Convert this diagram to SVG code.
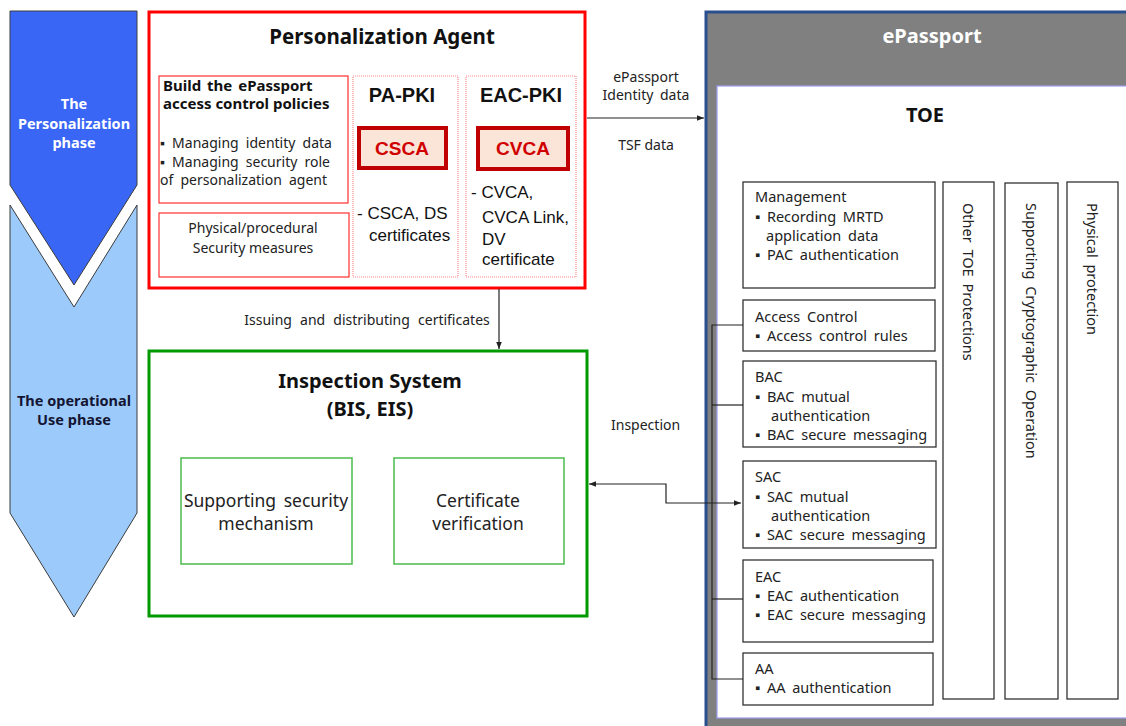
<svg xmlns="http://www.w3.org/2000/svg" width="1126" height="726" viewBox="0 0 1126 726">
  <defs>
    <marker id="arr" viewBox="0 0 10 10" refX="10" refY="5" markerWidth="6" markerHeight="6" orient="auto-start-reverse">
      <path d="M0,1 L10,5 L0,9 z" fill="#222"/>
    </marker>
    <style>
      .body { font-family: "Noto Sans", "Liberation Sans", sans-serif; font-size: 14px; fill: #222; }
      .toe-text { font-size: 14.5px; word-spacing: 3px; }
      .wide { word-spacing: 3.5px; }
      .arial { font-family: "Liberation Sans", Arial, sans-serif; fill: #111; }
      .title { font-family: "Noto Sans", "Liberation Sans", sans-serif; font-weight: bold; fill: #111; }
      .phase { font-family: "Noto Sans", "Liberation Sans", sans-serif; font-weight: bold; font-size: 14.5px; text-anchor: middle; }
      .red-thin { fill: #fff; stroke: #ff3030; stroke-width: 1.2; }
      .red-dot { fill: #fff; stroke: #ff8a8a; stroke-width: 1.2; stroke-dasharray: 1 1; }
      .ca-box { fill: #fbe4d8; stroke: #c00000; stroke-width: 4; }
      .ca-text { font-family: "Liberation Sans", Arial, sans-serif; font-weight: bold; font-size: 19px; fill: #d00000; text-anchor: middle; }
      .green-thin { fill: #fff; stroke: #4cbb4c; stroke-width: 1.5; }
      .green-text { font-size: 17.5px; word-spacing: 3px; }
      .toe-box { fill: #fff; stroke: #333; stroke-width: 1.3; }
      .conn { fill: none; stroke: #222; stroke-width: 1.2; }
      .mid { text-anchor: middle; }
    </style>
  </defs>

  <rect width="1126" height="726" fill="#fff"/>

  <!-- phase chevrons -->
  <g id="phase-personalization">
    <polygon points="10,11 137,11 137,185 74,285 10,185" fill="#3a66f6" stroke="#3c3c3c" stroke-width="1"/>
    <text class="phase" x="74" y="109" fill="#fff">The</text>
    <text class="phase" x="74" y="129" fill="#fff">Personalization</text>
    <text class="phase" x="74" y="148" fill="#fff">phase</text>
  </g>
  <g id="phase-operational">
    <polygon points="10,205 74,307 137,205 137,513 74,617 10,513" fill="#9ccbfb" stroke="#3c3c3c" stroke-width="1"/>
    <text class="phase" x="74" y="406" fill="#141433">The operational</text>
    <text class="phase" x="74" y="425" fill="#141433">Use phase</text>
  </g>

  <!-- Personalization Agent -->
  <g id="personalization-agent">
    <rect x="149" y="12" width="436" height="276" fill="#fff" stroke="#ff0000" stroke-width="3"/>
    <text class="title mid" x="382" y="44" font-size="20.5">Personalization Agent</text>

    <rect class="red-thin" x="159" y="76" width="189" height="127"/>
    <text class="title" x="163" y="91" font-size="15" word-spacing="2">Build the ePassport</text>
    <text class="title" x="163" y="109" font-size="15">access control policies</text>
    <text class="body wide" x="160" y="148">▪ Managing identity data</text>
    <text class="body wide" x="160" y="167">▪ Managing security role</text>
    <text class="body wide" x="160" y="185">of personalization agent</text>

    <rect class="red-thin" x="159" y="213" width="190" height="64"/>
    <text class="body mid" x="253" y="233" font-size="14.5">Physical/procedural</text>
    <text class="body mid" x="253" y="253" font-size="14.5">Security measures</text>

    <rect class="red-dot" x="353" y="76" width="105" height="201"/>
    <text class="arial mid" x="402" y="102" font-size="20" font-weight="bold">PA-PKI</text>
    <rect class="ca-box" x="359" y="128" width="87" height="40"/>
    <text class="ca-text" x="402" y="155">CSCA</text>
    <text class="arial" x="357" y="219" font-size="17">- CSCA, DS</text>
    <text class="arial" x="369" y="241" font-size="17">certificates</text>

    <rect class="red-dot" x="466" y="76" width="110" height="201"/>
    <text class="arial mid" x="521" y="102" font-size="20" font-weight="bold">EAC-PKI</text>
    <rect class="ca-box" x="478" y="128" width="90" height="41"/>
    <text class="ca-text" x="523" y="155">CVCA</text>
    <text class="arial" x="471" y="198" font-size="17">- CVCA,</text>
    <text class="arial" x="482" y="223" font-size="17">CVCA Link,</text>
    <text class="arial" x="482" y="245" font-size="17">DV</text>
    <text class="arial" x="482" y="265" font-size="17">certificate</text>
  </g>

  <!-- Inspection System -->
  <g id="inspection-system">
    <rect x="149" y="351" width="438" height="265" fill="#fff" stroke="#009a00" stroke-width="3"/>
    <text class="title mid" x="370" y="388" font-size="20">Inspection System</text>
    <text class="title mid" x="370" y="416" font-size="20">(BIS, EIS)</text>
    <rect class="green-thin" x="181" y="458" width="171" height="106"/>
    <text class="body green-text mid" x="266" y="507">Supporting security</text>
    <text class="body green-text mid" x="266" y="530">mechanism</text>
    <rect class="green-thin" x="394" y="458" width="170" height="106"/>
    <text class="body green-text mid" x="478" y="507">Certificate</text>
    <text class="body green-text mid" x="478" y="530">verification</text>
  </g>

  <!-- ePassport -->
  <g id="epassport">
    <rect x="706" y="12" width="430" height="730" fill="#808080" stroke="#2a4f8e" stroke-width="3"/>
    <text class="title mid" x="932" y="43" font-size="20" style="fill:#fff">ePassport</text>
  </g>

  <g id="toe">
    <rect x="717" y="86" width="420" height="632" fill="#fff" stroke="#9c9cf0" stroke-width="1.2"/>
    <text class="title mid" x="925" y="122" font-size="20">TOE</text>
  </g>

  <g id="toe-management">
    <rect class="toe-box" x="743" y="182" width="192" height="106"/>
    <text class="body toe-text" x="755" y="202">Management</text>
    <text class="body toe-text" x="755" y="222">▪ Recording MRTD</text>
    <text class="body toe-text" x="766" y="241">application data</text>
    <text class="body toe-text" x="755" y="260">▪ PAC authentication</text>
  </g>
  <g id="toe-access-control">
    <rect class="toe-box" x="743" y="300" width="192" height="51"/>
    <text class="body toe-text" x="755" y="322">Access Control</text>
    <text class="body toe-text" x="755" y="341">▪ Access control rules</text>
  </g>
  <g id="toe-bac">
    <rect class="toe-box" x="743" y="361" width="193" height="86"/>
    <text class="body toe-text" x="755" y="382">BAC</text>
    <text class="body toe-text" x="755" y="402">▪ BAC mutual</text>
    <text class="body toe-text" x="771" y="421">authentication</text>
    <text class="body toe-text" x="755" y="440">▪ BAC secure messaging</text>
  </g>
  <g id="toe-sac">
    <rect class="toe-box" x="743" y="461" width="193" height="87"/>
    <text class="body toe-text" x="755" y="482">SAC</text>
    <text class="body toe-text" x="755" y="502">▪ SAC mutual</text>
    <text class="body toe-text" x="771" y="521">authentication</text>
    <text class="body toe-text" x="755" y="540">▪ SAC secure messaging</text>
  </g>
  <g id="toe-eac">
    <rect class="toe-box" x="743" y="560" width="190" height="82"/>
    <text class="body toe-text" x="755" y="582">EAC</text>
    <text class="body toe-text" x="755" y="601">▪ EAC authentication</text>
    <text class="body toe-text" x="755" y="620">▪ EAC secure messaging</text>
  </g>
  <g id="toe-aa">
    <rect class="toe-box" x="743" y="653" width="190" height="52"/>
    <text class="body toe-text" x="755" y="674">AA</text>
    <text class="body toe-text" x="755" y="693">▪ AA authentication</text>
  </g>

  <g id="toe-other-protections">
    <rect class="toe-box" x="943" y="182" width="51" height="517"/>
    <text class="body toe-text" transform="translate(969,203) rotate(90)" dominant-baseline="central">Other TOE Protections</text>
  </g>
  <g id="toe-crypto">
    <rect class="toe-box" x="1005" y="183" width="53" height="516"/>
    <text class="body toe-text" transform="translate(1032,203) rotate(90)" dominant-baseline="central">Supporting Cryptographic Operation</text>
  </g>
  <g id="toe-physical">
    <rect class="toe-box" x="1067" y="182" width="51" height="517"/>
    <text class="body toe-text" transform="translate(1093,203) rotate(90)" dominant-baseline="central">Physical protection</text>
  </g>

  <!-- connectors -->
  <g id="connectors">
    <line class="conn" x1="587" y1="118" x2="704" y2="118" marker-end="url(#arr)"/>
    <text class="body mid" x="646" y="82">ePassport</text>
    <text class="body mid" x="646" y="100" word-spacing="3">Identity data</text>
    <text class="body mid" x="646" y="150">TSF data</text>

    <line class="conn" x1="499" y1="289" x2="499" y2="349" marker-end="url(#arr)"/>
    <text class="body mid" x="367" y="325" word-spacing="4.5">Issuing and distributing certificates</text>

    <polyline class="conn" points="589,484 666,484 666,503 741,503" marker-start="url(#arr)" marker-end="url(#arr)"/>
    <text class="body" x="611" y="430">Inspection</text>

    <polyline class="conn" points="743,325 712,325 712,679 743,679"/>
    <line class="conn" x1="712" y1="405" x2="743" y2="405"/>
    <line class="conn" x1="712" y1="599" x2="743" y2="599"/>
  </g>
</svg>
